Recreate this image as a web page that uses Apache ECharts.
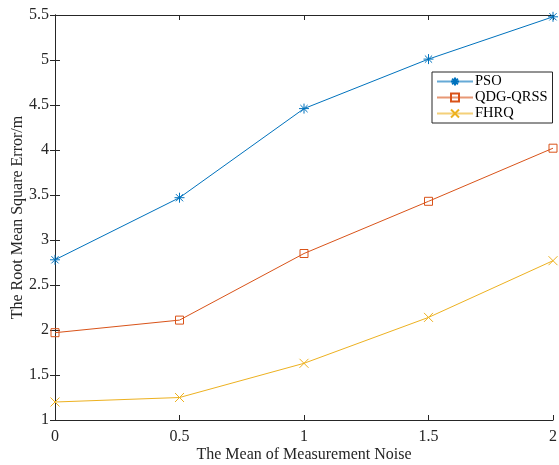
<!DOCTYPE html>
<html><head><meta charset="utf-8">
<script src="https://cdn.jsdelivr.net/npm/echarts@6/dist/echarts.min.js"></script>
<style>html,body{margin:0;padding:0;background:#fff}#c{width:559px;height:465px}</style>
</head><body><div id="c"></div>
<script>
var xValues = [0, 0.5, 1, 1.5, 2];
var psoValues = [2.78, 3.47, 4.46, 5.01, 5.48];
var qdgValues = [1.97, 2.11, 2.85, 3.43, 4.02];
var fhrqValues = [1.20, 1.25, 1.63, 2.14, 2.77];
var seriesNames = ['PSO', 'QDG-QRSS', 'FHRQ'];
var xTitle = 'The Mean of Measurement Noise';
var yTitle = 'The Root Mean Square Error/m';

var font = 'Liberation Serif';
var colors = ['#0072BD', '#D95319', '#EDB120'];
var symbols = [
  'path://M0,-5L0,5M-5,0L5,0M-3.6,-3.6L3.6,3.6M-3.6,3.6L3.6,-3.6',
  'rect',
  'path://M-5,-5L5,5M-5,5L5,-5'
];
var sizes = [10, 8, 9];
var dataSets = [psoValues, qdgValues, fhrqValues];

function pairs(ys){ return xValues.map(function(x,i){ return [x, ys[i]]; }); }

var axisCommon = {
  axisLine: {show: true, lineStyle: {color: '#262626', width: 1}},
  axisTick: {show: true, inside: true, length: 5, lineStyle: {color: '#262626'}},
  splitLine: {show: false}
};

var series = seriesNames.map(function(n, i){
  return {
    name: n, type: 'line', data: pairs(dataSets[i]),
    symbol: symbols[i], symbolSize: sizes[i],
    showAllSymbol: true,
    lineStyle: {color: colors[i], width: 1},
    itemStyle: {color: 'rgba(0,0,0,0)', borderColor: colors[i], borderWidth: 1},
    emphasis: {disabled: true},
    animation: false
  };
});

var chart = echarts.init(document.getElementById('c'));
chart.setOption({
  backgroundColor: '#fff',
  animation: false,
  grid: {left: 55, right: 6, top: 15, bottom: 45, containLabel: false, outerBoundsMode: 'none'},
  legend: {
    data: seriesNames,
    left: 432, top: 72, orient: 'vertical',
    itemWidth: 36, itemHeight: 10, itemGap: 1,
    padding: [2, 5, 2, 4],
    backgroundColor: '#fff', borderColor: '#262626', borderWidth: 1, borderRadius: 0,
    lineStyle: {width: 2, opacity: 0.6},
    textStyle: {fontFamily: font, fontSize: 14.5, color: '#000', padding: [0, 0, 0, -3]}
  },
  xAxis: [
    Object.assign({type: 'value', min: 0, max: 2, interval: 0.5, position: 'bottom',
      axisLabel: {fontFamily: font, fontSize: 16, color: '#262626', margin: 9},
      name: xTitle, nameLocation: 'middle', nameGap: 27, nameMoveOverlap: false,
      nameTextStyle: {fontFamily: font, fontSize: 16, color: '#262626'}}, axisCommon),
    Object.assign({type: 'value', min: 0, max: 2, interval: 0.5, position: 'top',
      axisLabel: {show: false}}, axisCommon)
  ],
  yAxis: [
    Object.assign({type: 'value', min: 1, max: 5.5, interval: 0.5, position: 'left',
      axisLabel: {fontFamily: font, fontSize: 16, color: '#262626', margin: 6},
      name: yTitle, nameLocation: 'middle', nameGap: 29, nameMoveOverlap: false,
      nameTextStyle: {fontFamily: font, fontSize: 16, color: '#262626'}}, axisCommon),
    Object.assign({type: 'value', min: 1, max: 5.5, interval: 0.5, position: 'right',
      axisLabel: {show: false}}, axisCommon)
  ],
  series: series
});
</script></body></html>
